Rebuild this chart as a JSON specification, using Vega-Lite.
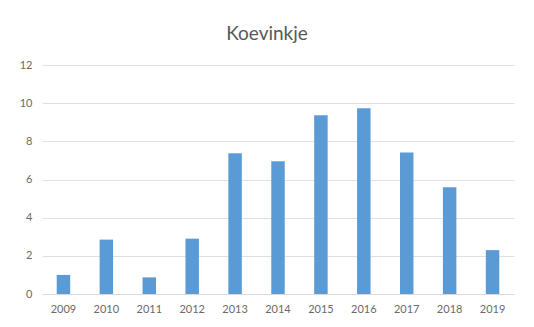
{
  "$schema": "https://vega.github.io/schema/vega-lite/v6.json",
  "autosize": {"type": "none"},
  "width": 472,
  "height": 229,
  "padding": {"left": 42, "top": 65, "right": 20, "bottom": 33},
  "background": "white",
  "title": {
    "text": "Koevinkje",
    "font": "Lato",
    "fontSize": 19,
    "fontWeight": "normal",
    "color": "#595959",
    "anchor": "middle",
    "dx": -11,
    "offset": 15
  },
  "data": {
    "values": [
      {"year": "2009", "value": 1.0},
      {"year": "2010", "value": 2.85},
      {"year": "2011", "value": 0.87},
      {"year": "2012", "value": 2.9},
      {"year": "2013", "value": 7.37},
      {"year": "2014", "value": 6.96},
      {"year": "2015", "value": 9.37},
      {"year": "2016", "value": 9.74},
      {"year": "2017", "value": 7.42},
      {"year": "2018", "value": 5.59},
      {"year": "2019", "value": 2.3}
    ]
  },
  "mark": {"type": "bar", "color": "#5B9BD5"},
  "encoding": {
    "x": {
      "field": "year",
      "type": "ordinal",
      "scale": {"paddingInner": 0.686, "paddingOuter": 0.343},
      "axis": {
        "title": null,
        "labelAngle": 0,
        "labelFont": "Lato",
        "labelFontSize": 11,
        "labelColor": "#6a6a6a",
        "ticks": false,
        "domainColor": "#d9d9d9",
        "labelPadding": 9
      }
    },
    "y": {
      "field": "value",
      "type": "quantitative",
      "scale": {"domain": [0, 12], "nice": false},
      "axis": {
        "title": null,
        "values": [0, 2, 4, 6, 8, 10, 12],
        "labelFont": "Lato",
        "labelFontSize": 11,
        "labelColor": "#6a6a6a",
        "ticks": false,
        "domain": false,
        "gridColor": "#e0e0e0",
        "labelPadding": 10
      }
    }
  },
  "config": {"view": {"stroke": null}}
}
